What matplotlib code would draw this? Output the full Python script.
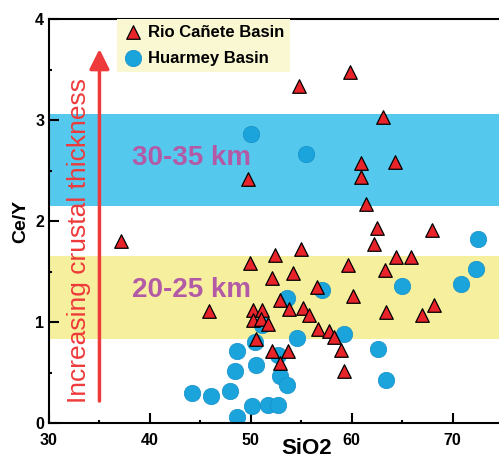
import matplotlib
matplotlib.use("Agg")
import matplotlib.pyplot as plt
from matplotlib.ticker import MultipleLocator

plt.rcParams['font.family'] = ['Liberation Sans', 'DejaVu Sans']

# Rio Cañete Basin (triangles)
rio_sio2 = [37.1, 45.9, 49.7, 49.9, 54.8, 59.8, 63.1, 60.9, 60.9, 64.3, 61.4, 62.5,
            62.2, 68.0, 52.4, 55.0, 59.6, 64.4, 65.9, 63.3, 52.1, 54.2, 56.6, 60.1,
            52.9, 53.8, 55.2, 55.8, 63.4, 67.0, 68.2, 50.2, 51.1, 50.2, 51.0, 51.7,
            56.7, 57.8, 58.2, 50.5, 58.9, 52.1, 53.7, 52.9, 59.2]
rio_cey = [1.80, 1.11, 2.42, 1.58, 3.34, 3.48, 3.03, 2.57, 2.44, 2.58, 2.17, 1.93,
           1.77, 1.91, 1.66, 1.72, 1.56, 1.64, 1.64, 1.51, 1.44, 1.49, 1.35, 1.26,
           1.22, 1.13, 1.14, 1.07, 1.10, 1.07, 1.17, 1.12, 1.12, 1.02, 1.03, 0.98,
           0.93, 0.91, 0.85, 0.83, 0.72, 0.71, 0.71, 0.59, 0.51]

# Huarmey Basin (circles)
hua_sio2 = [50.0, 55.5, 72.5, 72.3, 70.8, 65.0, 57.1, 53.6, 51.1, 59.2, 54.6, 50.4,
            48.6, 62.6, 52.7, 50.5, 48.4, 52.9, 53.6, 63.4, 44.2, 46.1, 47.9, 50.1,
            51.7, 52.7, 48.6]
hua_cey = [2.86, 2.66, 1.82, 1.52, 1.38, 1.36, 1.32, 1.24, 0.97, 0.88, 0.84, 0.80,
           0.71, 0.73, 0.67, 0.57, 0.51, 0.47, 0.38, 0.43, 0.30, 0.27, 0.32, 0.17,
           0.18, 0.18, 0.06]

# bandas de espessura crustal
banda_30_35 = (2.15, 3.06)
banda_20_25 = (0.83, 1.65)

fig = plt.figure(figsize=(4.99, 4.58), dpi=100)
ax = fig.add_axes([49/499, 35/458, 454/499, 404/458])

ax.axhspan(*banda_30_35, color='#55C8EE', lw=0, zorder=0)
ax.axhspan(*banda_20_25, color='#F6F09E', lw=0, zorder=0)

ax.scatter(hua_sio2, hua_cey, marker='o', s=140, color='#1BA3DC',
           edgecolors='#1590C8', linewidths=0.5, zorder=2, label='Huarmey Basin')
ax.scatter(rio_sio2, rio_cey, marker='^', s=95, color='#E8242A',
           edgecolors='black', linewidths=0.9, zorder=3, label='Rio Cañete Basin')

ax.text(38.2, 2.62, '30-35 km', color='#B35AA6', fontsize=20, fontweight='bold',
        va='center', ha='left', zorder=4)
ax.text(38.2, 1.32, '20-25 km', color='#B35AA6', fontsize=20, fontweight='bold',
        va='center', ha='left', zorder=4)

# seta vermelha
ax.annotate('', xy=(35, 3.73), xytext=(35, 0.19),
            arrowprops=dict(arrowstyle='-|>', color='#EE3A3A', lw=2.5,
                            mutation_scale=30), zorder=4)
ax.text(33.0, 1.81, 'Increasing crustal thickness', color='#EE3A3A', fontsize=19,
        rotation=90, va='center', ha='center', zorder=4)

ax.set_xlim(30, 75)
ax.set_ylim(0, 4)
ax.xaxis.set_major_locator(MultipleLocator(10))
ax.xaxis.set_minor_locator(MultipleLocator(5))
ax.yaxis.set_major_locator(MultipleLocator(1))
ax.yaxis.set_minor_locator(MultipleLocator(0.5))
ax.tick_params(which='both', direction='in', width=1.5, top=False, right=False)
ax.tick_params(which='major', length=7, labelsize=11.5)
ax.tick_params(axis='x', which='major', pad=7)
for lbl in ax.get_xticklabels() + ax.get_yticklabels():
    lbl.set_fontweight('bold')
for s in ax.spines.values():
    s.set_linewidth(1.5)

ax.set_xlabel('SiO2', fontsize=16, fontweight='bold')
ax.xaxis.set_label_coords(0.568, -0.036)
ax.set_ylabel('Ce/Y', fontsize=14, fontweight='bold', labelpad=4)

handles, labels = ax.get_legend_handles_labels()
leg = ax.legend(handles[::-1], labels[::-1], loc='upper left', bbox_to_anchor=(0.15, 1.0),
                borderaxespad=0, frameon=True, fancybox=False, handletextpad=0.3,
                prop={'weight': 'bold', 'size': 12}, borderpad=0.35, labelspacing=0.65,
                handlelength=1.2)
leg.get_frame().set_facecolor('#FAF8D2')
leg.get_frame().set_edgecolor('none')
leg.get_frame().set_alpha(1)
leg.set_zorder(5)

fig.savefig('out.png', dpi=100)
